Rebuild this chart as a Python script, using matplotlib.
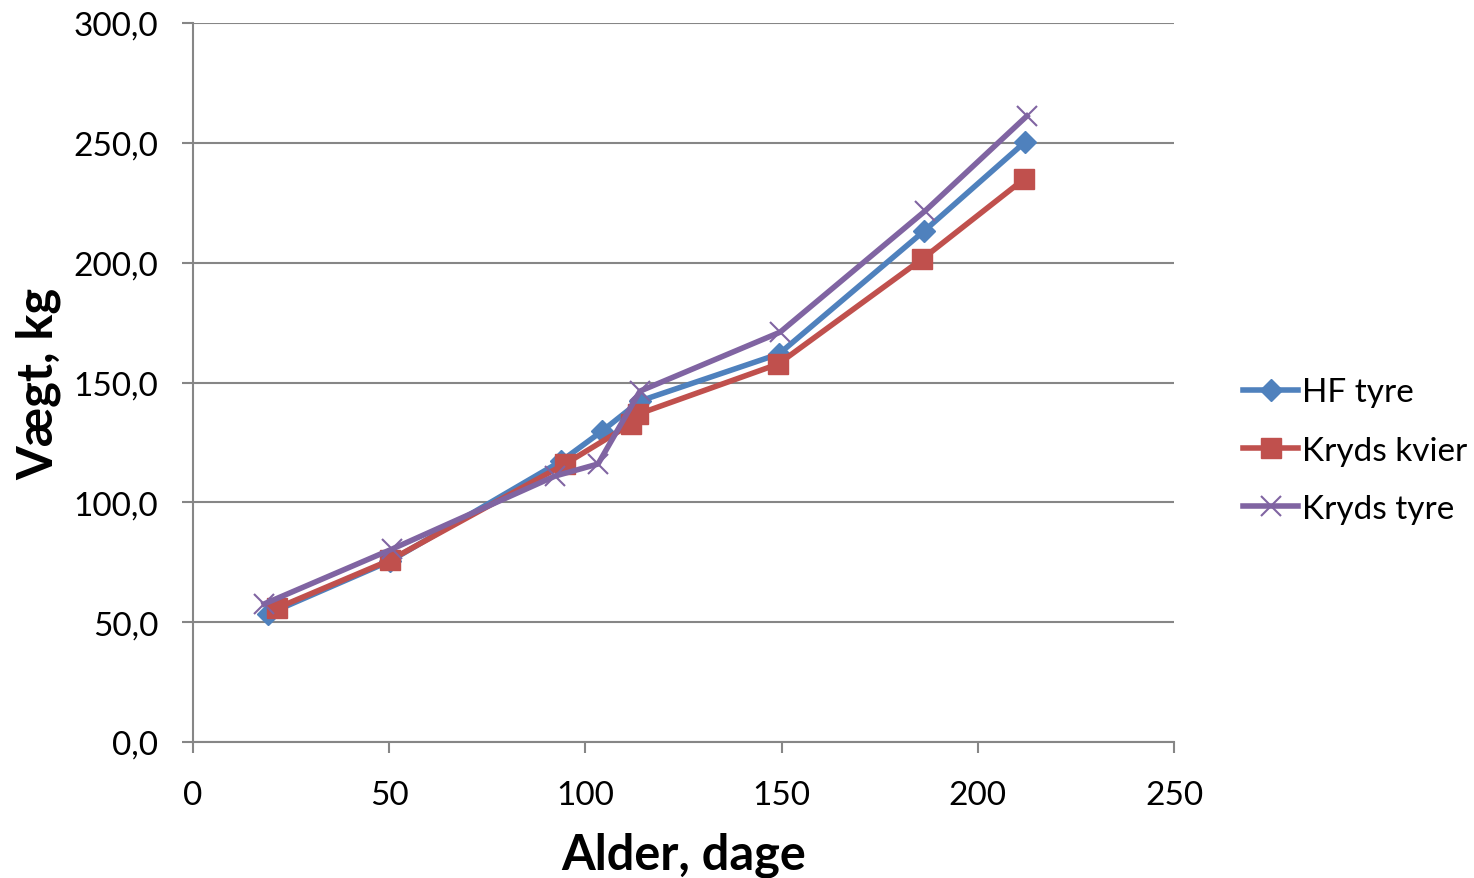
import matplotlib
matplotlib.use("Agg")
import matplotlib.pyplot as plt

plt.rcParams['font.family'] = ['Lato', 'DejaVu Sans']

# aflæste værdier (alder i dage, vægt i kg)
hf_x = [19.1, 50.2, 93.8, 104.2, 113.9, 149.3, 186.3, 212.0]
hf_y = [53.4, 75.5, 117.2, 129.7, 142.3, 161.9, 213.2, 250.3]

kvier_x = [21.4, 50.2, 94.8, 111.6, 113.4, 149.1, 185.8, 211.8]
kvier_y = [55.9, 75.9, 116.0, 132.7, 136.8, 157.7, 201.5, 234.9]

tyre_x = [18.1, 50.7, 92.3, 103.2, 113.9, 149.6, 186.5, 212.5]
tyre_y = [57.6, 80.5, 111.0, 116.0, 146.4, 171.0, 221.5, 261.2]

y_ticks = [0, 50, 100, 150, 200, 250, 300]
x_ticks = [0, 50, 100, 150, 200, 250]

fig = plt.figure(figsize=(14.74, 8.79), dpi=100)
ax = fig.add_axes([0.131, 0.1547, 0.6655, 0.818])

ax.plot(hf_x, hf_y, color='#4F81BD', lw=4, marker='D', ms=11,
        label='HF tyre', zorder=3)
ax.plot(kvier_x, kvier_y, color='#C0504D', lw=4, marker='s', ms=14,
        label='Kryds kvier', zorder=4)
ax.plot(tyre_x, tyre_y, color='#8064A2', lw=4, marker='x', ms=15,
        mew=1.5, label='Kryds tyre', zorder=5)

ax.set_xlim(0, 250)
ax.set_ylim(0, 300)
ax.set_xticks(x_ticks)
ax.set_yticks(y_ticks)
ax.set_yticklabels(['{:.1f}'.format(v).replace('.', ',') for v in y_ticks])
ax.tick_params(axis='both', labelsize=24, color='#868686', length=8,
               width=1.5)
ax.tick_params(axis='y', pad=17)
ax.tick_params(axis='x', pad=19)
ax.grid(axis='y', color='#868686', lw=1.5)
ax.set_axisbelow(True)
for s in ['top', 'right']:
    ax.spines[s].set_visible(False)
for s in ['left', 'bottom']:
    ax.spines[s].set_color('#868686')
    ax.spines[s].set_linewidth(1.5)

ax.set_xlabel('Alder, dage', fontsize=35, fontweight='bold', labelpad=16)
ax.set_ylabel('Vægt, kg', fontsize=35, fontweight='bold', labelpad=9)

ax.legend(loc='center left', bbox_to_anchor=(1.040, 0.405), frameon=False,
          fontsize=24, handlelength=1.65, handletextpad=0.1, labelspacing=0.85)

fig.savefig('out.png', dpi=100)
